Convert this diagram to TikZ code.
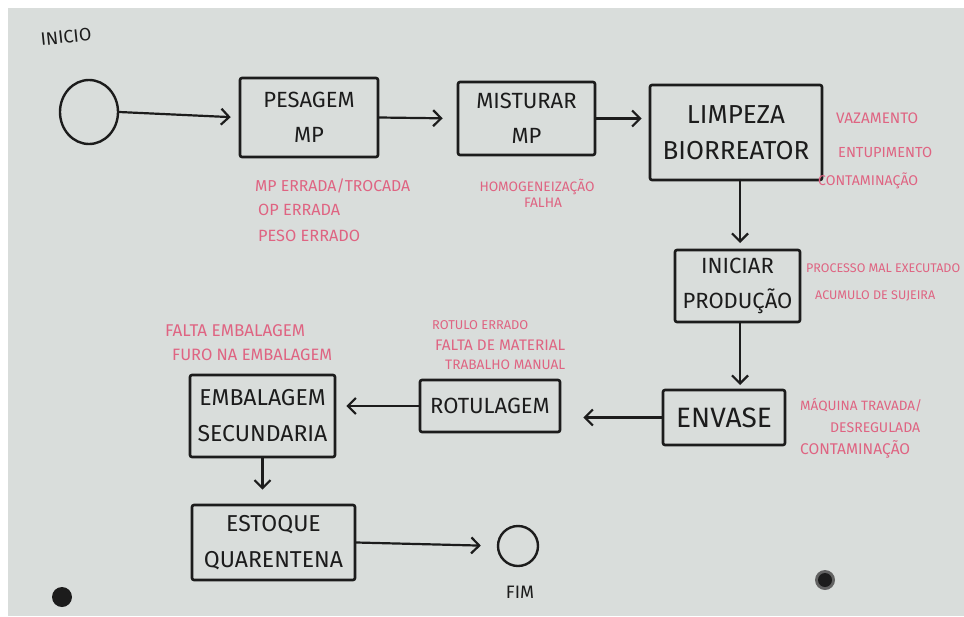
\documentclass[tikz,border=0pt]{standalone}
\usepackage{fontspec}
\setmainfont{Fira Sans}
\usetikzlibrary{arrows.meta,shapes.geometric,calc}
\definecolor{board}{HTML}{D9DDDB}
\definecolor{pinkink}{HTML}{DF6482}
\definecolor{ink}{HTML}{1C1C1C}
\newcommand{\pk}[2]{\resizebox{#1}{!}{#2}}
\begin{document}
\begin{tikzpicture}[x=1pt,y=-1pt,
  box/.style={draw=ink, line width=2.6pt, rectangle, rounded corners=2pt, align=center,
    text=ink, font=\fontsize{22}{35}\selectfont, inner sep=0pt},
  term/.style={draw=ink, line width=2.4pt, ellipse, inner sep=0pt},
  flow/.style={draw=ink, line width=2.2pt, line cap=round,
    -{Straight Barb[length=8pt,width=16pt,line width=2.2pt]}},
  note/.style={text=pinkink, font=\fontsize{12}{14}\selectfont, anchor=west, inner sep=0pt},
  lbl/.style={text=ink, inner sep=0pt}]
\useasboundingbox (0,0) rectangle (964,616);
\fill[white] (0,0) rectangle (964,616);
\fill[board] (8,8) rectangle (964,616);
% magnets
\fill[ink] (62,597) circle (10);
\fill[gray!70!ink] (825,580) circle (10);
\fill[ink] (825,580) circle (7);

% terminals
\node[lbl, rotate=6, font=\fontsize{18}{20}\selectfont] (tinicio) at (66,37) {INICIO};
\node[term, minimum width=58pt, minimum height=64pt] (inicio) at (89,112) {};
\node[term, minimum width=40pt, minimum height=40pt] (fim) at (518,546) {};
\node[lbl, font=\fontsize{18}{20}\selectfont] (tfim) at (520,592) {FIM};

% process boxes
\node[box, minimum width=138pt, minimum height=79pt] (pes) at (309,117.5) {PESAGEM\\MP};
\node[box, minimum width=137pt, minimum height=73pt] (mis) at (526.5,118.5) {MISTURAR\\MP};
\node[box, minimum width=172pt, minimum height=95pt, font=\fontsize{26}{36}\selectfont] (lim) at (736,132.5) {LIMPEZA\\BIORREATOR};
\node[box, minimum width=125pt, minimum height=72pt] (ini) at (737.5,286) {INICIAR\\PRODUÇÃO};
\node[box, minimum width=122pt, minimum height=55pt, font=\fontsize{28}{30}\selectfont] (env) at (724,417.5) {ENVASE};
\node[box, minimum width=140pt, minimum height=52pt] (rot) at (490,406) {ROTULAGEM};
\node[box, minimum width=145pt, minimum height=82pt, font=\fontsize{23}{36}\selectfont] (emb) at (262.5,416) {EMBALAGEM\\SECUNDARIA};
\node[box, minimum width=163pt, minimum height=75pt, font=\fontsize{23}{36}\selectfont] (est) at (273.5,542.5) {ESTOQUE\\QUARENTENA};

% connector helper points
\coordinate (limS) at (740,180);
\coordinate (iniN) at (740,250);
\coordinate (iniS) at (740,322);
\coordinate (envN) at (740,390);

% connectors
\draw[flow, shorten >=8pt] (inicio.east) -- (pes.west);
\draw[flow, shorten >=14pt] (pes.east) -- (mis.west);
\draw[flow, shorten >=7pt] (mis.east) -- (mis.east -| lim.west);
\draw[flow, shorten >=7pt] (limS) -- (iniN);
\draw[flow, shorten >=5pt] (iniS) -- (envN);
\draw[flow, shorten >=22pt] (env.west) -- (env.west -| rot.east);
\draw[flow, shorten >=10pt] (rot.west) -- (rot.west -| emb.east);
\draw[flow, shorten >=14pt] (emb.south) -- (emb.south |- est.north);
\draw[flow, shorten >=16pt] (est.east) -- (fim.west);

% failure notes
\node[note] (n1) at (255,186) {\pk{155pt}{MP ERRADA/TROCADA}};
\node[note] (n2) at (258,210) {\pk{82pt}{OP ERRADA}};
\node[note] (n3) at (258,236) {\pk{102pt}{PESO ERRADO}};
\node[note, anchor=center] (n4) at (537,187) {\pk{115pt}{HOMOGENEIZAÇÃO}};
\node[note, anchor=center] (n5) at (543,203) {\pk{38pt}{FALHA}};
\node[note] (n6) at (836,118) {\pk{82pt}{VAZAMENTO}};
\node[note] (n7) at (838,152) {\pk{94pt}{ENTUPIMENTO}};
\node[note] (n8) at (818,181) {\pk{100pt}{CONTAMINAÇÃO}};
\node[note] (n9) at (806,268) {\pk{154pt}{PROCESSO MAL EXECUTADO}};
\node[note] (n10) at (815,296) {\pk{120pt}{ACUMULO DE SUJEIRA}};
\node[note] (n11) at (432,325) {\pk{96pt}{ROTULO ERRADO}};
\node[note] (n12) at (435,345) {\pk{130pt}{FALTA DE MATERIAL}};
\node[note] (n13) at (445,365) {\pk{120pt}{TRABALHO MANUAL}};
\node[note] (n14) at (165,331) {\pk{140pt}{FALTA EMBALAGEM}};
\node[note] (n15) at (172,355) {\pk{160pt}{FURO NA EMBALAGEM}};
\node[note] (n16) at (800,405) {\pk{122pt}{MÁQUINA TRAVADA/}};
\node[note] (n17) at (830,428) {\pk{90pt}{DESREGULADA}};
\node[note] (n18) at (800,449) {\pk{110pt}{CONTAMINAÇÃO}};
\end{tikzpicture}
\end{document}
